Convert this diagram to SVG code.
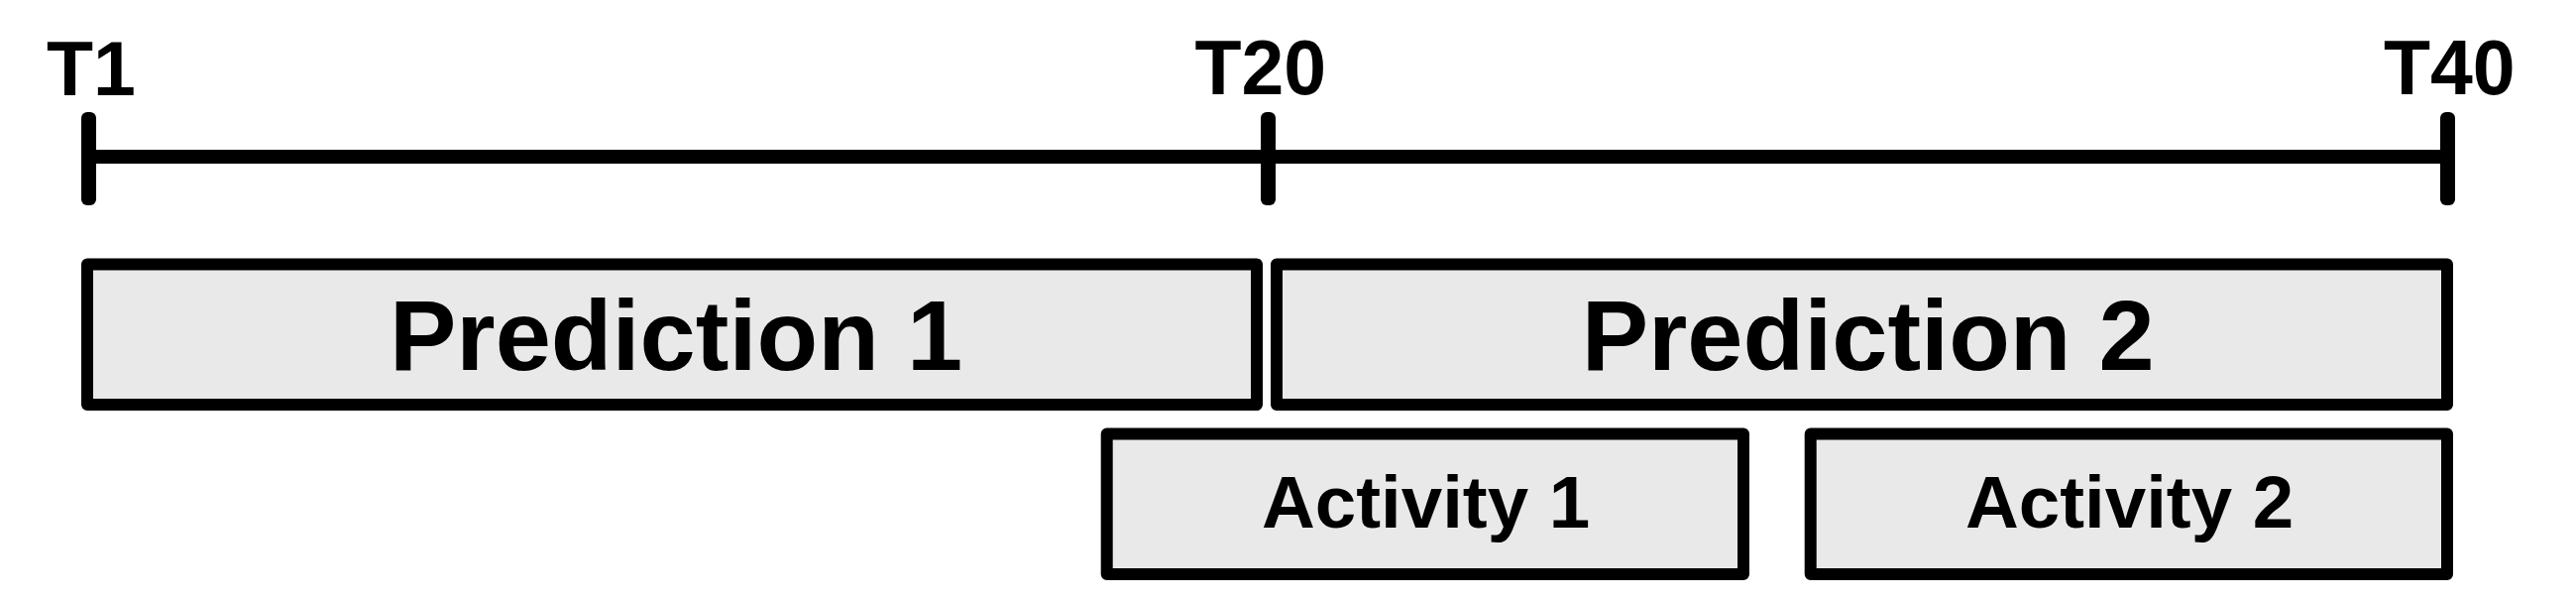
<svg xmlns="http://www.w3.org/2000/svg" width="2599" height="606" viewBox="0 0 2599 606">
<style>
.box{fill:#e9e9e9;stroke:#000;stroke-width:12;stroke-linejoin:round}
.bar{fill:#000}
.lbl{font-family:"Liberation Sans",Arial,sans-serif;font-weight:bold;fill:#000}
.t{font-size:77px}
.p{font-size:101px}
.a{font-size:74.5px}
</style>
<rect width="2599" height="606" fill="#fff"/>
<g id="timeline">
<rect class="bar" x="90" y="151" width="2375" height="14"/>
<rect class="bar" x="82" y="113" width="15" height="94" rx="6"/>
<rect class="bar" x="1272" y="113" width="15" height="94" rx="6"/>
<rect class="bar" x="2462" y="113" width="15" height="94" rx="6"/>
<text class="lbl t" x="47" y="95.5">T1</text>
<text class="lbl t" x="1205.5" y="95">T20</text>
<text class="lbl t" x="2405" y="94.5">T40</text>
</g>
<g id="prediction1">
<rect class="box" x="88" y="266.5" width="1180" height="141.5"/>
<text class="lbl p" x="393" y="373.3">Prediction 1</text>
</g>
<g id="prediction2">
<rect class="box" x="1288" y="266.5" width="1181" height="141.5"/>
<text class="lbl p" x="1595.7" y="373.3">Prediction 2</text>
</g>
<g id="activity1">
<rect class="box" x="1116.7" y="437.5" width="642.3" height="141.5"/>
<text class="lbl a" x="1273" y="531.7">Activity 1</text>
</g>
<g id="activity2">
<rect class="box" x="1826.7" y="437.5" width="642.3" height="141.5"/>
<text class="lbl a" x="1983" y="531.7">Activity 2</text>
</g>
<g id="connectors"></g>
</svg>
